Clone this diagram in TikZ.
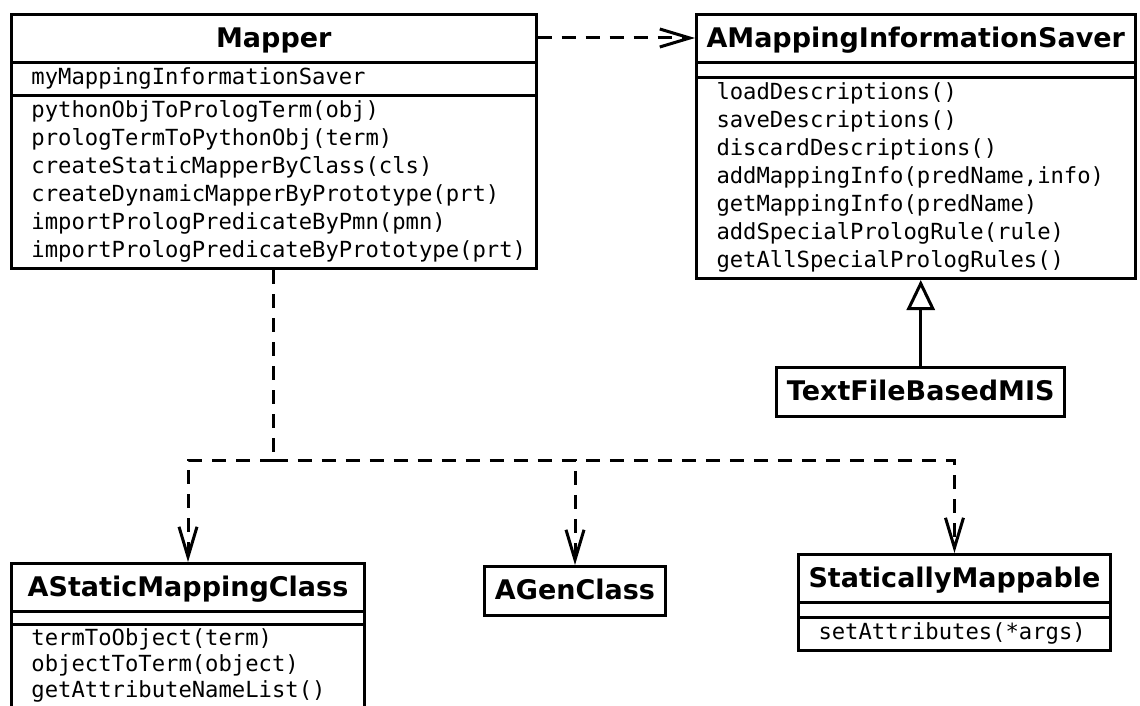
\documentclass[tikz,border=0pt]{standalone}
\usepackage{fontspec}
\usepackage{tikz}
\usetikzlibrary{positioning,shapes.multipart,arrows.meta}

\newfontfamily\umlsans{DejaVu Sans}
\newfontfamily\umlmono{DejaVu Sans Mono}
\newcommand\titlesize{\fontsize{13.5pt}{21.5pt}\selectfont}
\newcommand\membersize{\fontsize{11.1pt}{14pt}\selectfont}
\newcommand\classname[1]{{\umlsans\bfseries\titlesize\strut #1}}
\newcommand\members[1]{\begin{tabular}{@{\hspace{5pt}}l@{}}#1\end{tabular}}
\newcommand\noattr{\rule{0pt}{5pt}}

\tikzset{
  umlclass/.style={draw, line width=1.5pt, rectangle split, rectangle split parts=3,
    rectangle split ignore empty parts=false, rectangle split part align={center,left,left},
    inner xsep=5pt, inner ysep=0.5pt, font=\umlmono\membersize},
  umlsimple/.style={draw, line width=1.5pt, inner xsep=5pt, inner ysep=1.5pt},
  depends/.style={line width=1.5pt, dash pattern=on 7pt off 5pt,
    -{Straight Barb[length=15pt,width=9pt]}},
  inherits/.style={line width=1.5pt, -{Triangle[open,length=15pt,width=14pt]}}
}

\begin{document}
\begin{tikzpicture}[x=0.5pt, y=-0.5pt]
  \useasboundingbox (0,0) rectangle (1140,706);

  % Top row
  \node[umlclass, anchor=north west] (mapper) at (10,13)
    {\classname{Mapper}
     \nodepart{two}\members{myMappingInformationSaver}
     \nodepart{three}\members{pythonObjToPrologTerm(obj)\\
       prologTermToPythonObj(term)\\
       createStaticMapperByClass(cls)\\
       createDynamicMapperByPrototype(prt)\\
       importPrologPredicateByPmn(pmn)\\
       importPrologPredicateByPrototype(prt)}};
  \node[umlclass, anchor=north west] (saver) at (695,13)
    {\classname{AMappingInformationSaver}
     \nodepart{two}\noattr
     \nodepart{three}\members{loadDescriptions()\\
       saveDescriptions()\\
       discardDescriptions()\\
       addMappingInfo(predName,info)\\
       getMappingInfo(predName)\\
       addSpecialPrologRule(rule)\\
       getAllSpecialPrologRules()}};

  % Subclass of the saver
  \node[umlsimple, below=43pt of saver, xshift=2.5pt] (textsaver) {\classname{TextFileBasedMIS}};

  % Bottom row
  \node[umlclass, anchor=north west, minimum width=176.5pt,
    font=\umlmono\fontsize{11.1pt}{13pt}\selectfont] (staticclass) at (10,562)
    {\classname{AStaticMappingClass}
     \nodepart{two}\rule{0pt}{4pt}
     \nodepart{three}\members{termToObject(term)\\
       objectToTerm(object)\\
       getAttributeNameList()}};
  \node[umlsimple, anchor=north] (genclass) at (575,565) {\classname{AGenClass}};
  \node[umlclass, anchor=north west] (mappable) at (797,553)
    {\classname{StaticallyMappable}
     \nodepart{two}\noattr
     \nodepart{three}\members{setAttributes(*args)}};

  % Connectors
  \draw[depends] ([yshift=-12.5pt]mapper.north east) -- ([yshift=-12.5pt]saver.north west);
  \draw[inherits] (textsaver.north) -- (textsaver.north |- saver.south);

  \coordinate (split) at (mapper.south |- 0,460);
  \draw[depends, -] (mapper.south) -- (split);
  \draw[depends] (split) -| (staticclass.north);
  \draw[depends] (split) -| (genclass.north);
  \draw[depends] (split) -| (mappable.north);

\end{tikzpicture}
\end{document}
